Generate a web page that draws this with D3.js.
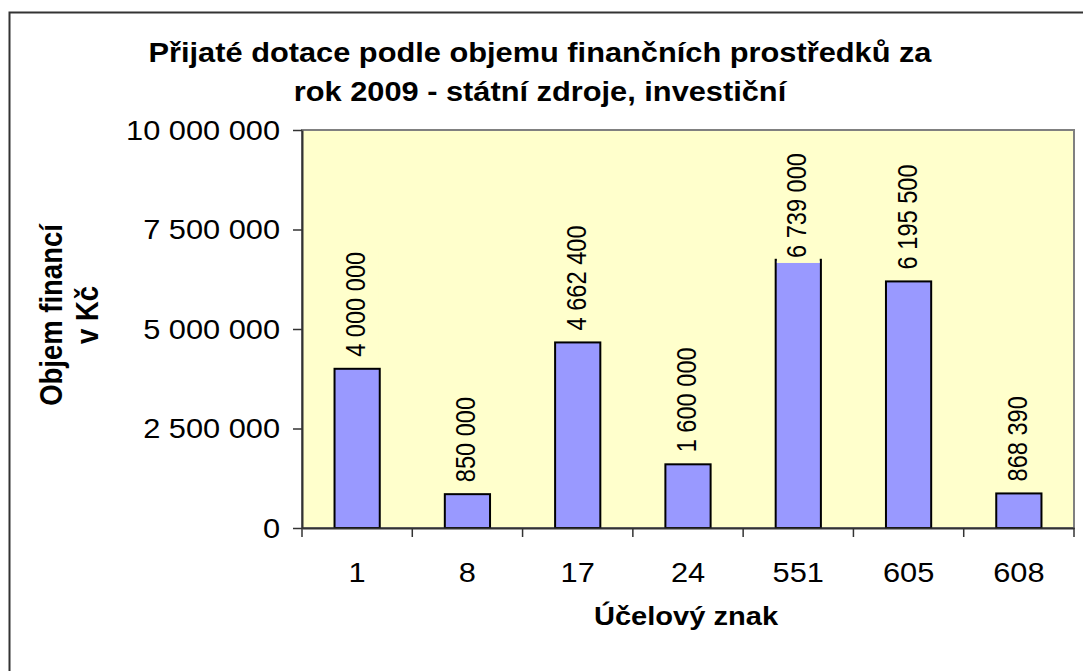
<!DOCTYPE html>
<html><head><meta charset="utf-8">
<script src="https://cdn.jsdelivr.net/npm/d3@7"></script>
<style>body{margin:0;background:#fff}svg{display:block;font-family:"Liberation Sans",Arial,sans-serif}</style>
</head><body>
<svg id="c" width="1083" height="671"></svg>
<script>
const categories = ["1","8","17","24","551","605","608"];
const values = [4000000, 850000, 4662400, 1600000, 6739000, 6195500, 868390];
const yTicks = [0, 2500000, 5000000, 7500000, 10000000];
const titleLines = ["Přijaté dotace podle objemu finančních prostředků za","rok 2009 - státní zdroje, investiční"];
const yTitleLines = ["Objem financí","v Kč"];
const xTitle = "Účelový znak";

const SX = 1.14; // horizontal stretch of the original rendering
const FF = "Liberation Sans, Arial, sans-serif";
const fmt = v => d3.format(",")(v).replace(/,/g, " ");
const svg = d3.select("#c");
const L = 302, R = 1074, T = 130, B = 528;

// outer frame
svg.append("rect").attr("x",9.5).attr("y",12.5).attr("width",1100).attr("height",700)
  .attr("fill","#fff").attr("stroke","#333").attr("stroke-width",2);

const x = d3.scaleBand().domain(categories).range([L,R]).paddingInner(0.59).paddingOuter(0.295);
const xb = d3.scaleBand().domain(categories).range([L,R]);
const y = d3.scaleLinear().domain([0,10000000]).range([B,T]);

svg.append("rect").attr("x",L).attr("y",T).attr("width",R-L).attr("height",B-T)
  .attr("fill","#FFFFCC").attr("stroke","#808080").attr("stroke-width",2);

svg.append("g").selectAll("rect").data(values).join("rect")
  .attr("x",(d,i)=>x(categories[i])).attr("width",x.bandwidth())
  .attr("y",d=>y(d)).attr("height",d=>B-y(d))
  .attr("fill","#9999FF").attr("stroke","#000").attr("stroke-width",2);

// data labels
const lg = svg.append("g");
values.forEach((v,i)=>{
  const cx = x(categories[i]) + x.bandwidth()/2;
  const g = lg.append("g");
  const t = g.append("text").attr("font-size",23.6).attr("fill","#000").text(fmt(v));
  const len = t.node().getComputedTextLength();
  const bottom = Math.max(Math.min(y(v)-12, B), T + 23 + len);
  g.attr("transform",`translate(${cx+8},${bottom}) scale(${SX},1) rotate(-90)`);
  g.insert("rect","text").attr("x",-5).attr("y",-25.8).attr("width",len+8).attr("height",37.6).attr("fill","#FFFFCC");
});

// y axis
const ya = svg.append("g").attr("transform",`translate(${L},0)`)
  .call(d3.axisLeft(y).tickValues(yTicks).tickSize(9).tickSizeOuter(0).tickFormat(fmt));
ya.select(".domain").attr("stroke","#333").attr("stroke-width",2);
ya.selectAll(".tick line").attr("stroke","#333").attr("stroke-width",1.5);
ya.selectAll("text").attr("font-size",27).attr("fill","#000").attr("font-family",FF)
  .attr("x",-22/SX).attr("dy","0.35em").attr("transform",`scale(${SX},1)`);

// x axis
const xa = svg.append("g").attr("transform",`translate(0,${B})`)
  .call(d3.axisBottom(xb).tickSize(0).tickSizeOuter(0));
xa.select(".domain").attr("stroke","#333").attr("stroke-width",2);
xa.selectAll("text").attr("font-size",27).attr("fill","#000").attr("font-family",FF)
  .attr("y",54).attr("dy",0).attr("transform",`scale(${SX},1)`);
const bounds = categories.map(c=>xb(c)).concat([R]);
svg.append("g").selectAll("line").data(bounds).join("line")
  .attr("x1",d=>d).attr("x2",d=>d).attr("y1",B).attr("y2",B+9).attr("stroke","#333").attr("stroke-width",1.5);

// titles
svg.append("g").selectAll("text").data(titleLines).join("text")
  .attr("transform",(d,i)=>`translate(540,${62+i*38.5}) scale(${SX},1)`)
  .attr("text-anchor","middle")
  .attr("font-size",27).attr("font-weight","bold").text(d=>d);

svg.append("g").selectAll("text").data(yTitleLines).join("text")
  .attr("transform",(d,i)=>`translate(${62+i*36},315) scale(${SX},1) rotate(-90)`)
  .attr("text-anchor","middle")
  .attr("font-size",27.5).attr("font-weight","bold").text(d=>d);

svg.append("text").attr("transform",`translate(686,625) scale(${SX},1)`).attr("text-anchor","middle")
  .attr("font-size",25.5).attr("font-weight","bold").text(xTitle);
</script>
</body></html>
